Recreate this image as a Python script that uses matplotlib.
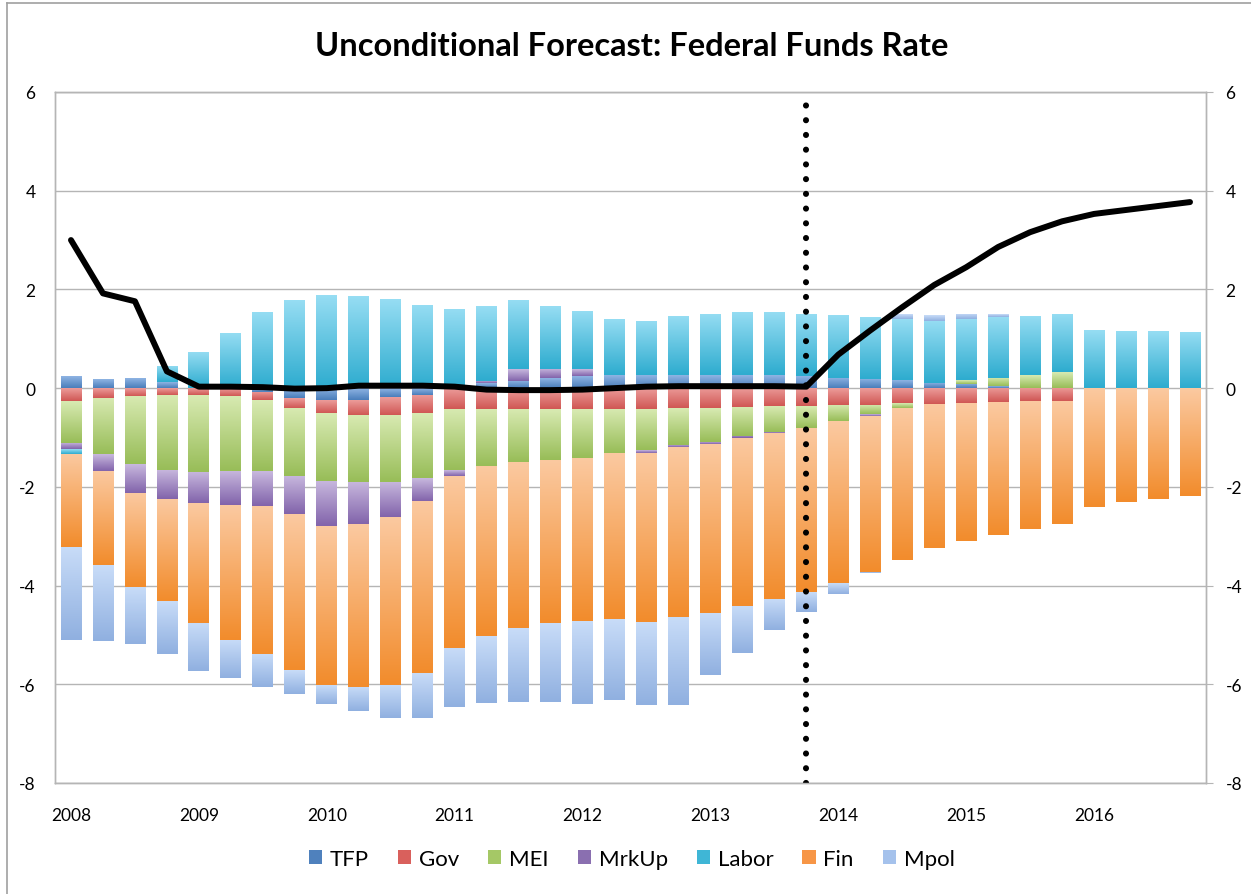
import numpy as np
import matplotlib
matplotlib.use("Agg")
import matplotlib.pyplot as plt
from matplotlib.patches import Patch
from matplotlib.lines import Line2D
from matplotlib.colors import to_rgb

# ---------------- data ----------------
years = [str(y) for y in range(2008, 2017)]
quarters = [f"{y}Q{q}" for y in range(2008, 2017) for q in range(1, 5)]

TFP = [0.24, 0.18, 0.20, 0.12, 0.0, 0.0, -0.08, -0.20, -0.25, -0.24, -0.18, -0.13,
       0.0, 0.10, 0.15, 0.20, 0.24, 0.26, 0.26, 0.26, 0.26, 0.26, 0.26, 0.24,
       0.21, 0.19, 0.16, 0.11, 0.09, 0.04, 0.01, 0.0, 0.0, 0.0, 0.0, 0.0]
Gov = [-0.26, -0.20, -0.15, -0.13, -0.13, -0.16, -0.17, -0.20, -0.26, -0.30, -0.36, -0.38,
       -0.42, -0.42, -0.42, -0.42, -0.42, -0.42, -0.42, -0.41, -0.41, -0.38, -0.37, -0.36,
       -0.34, -0.34, -0.31, -0.32, -0.30, -0.29, -0.27, -0.27, 0.0, 0.0, 0.0, 0.0]
MEI = [-0.85, -1.14, -1.39, -1.52, -1.56, -1.52, -1.43, -1.39, -1.37, -1.36, -1.36, -1.31,
       -1.24, -1.16, -1.08, -1.03, -0.99, -0.90, -0.84, -0.74, -0.68, -0.59, -0.51, -0.44,
       -0.33, -0.19, -0.10, 0.0, 0.07, 0.17, 0.26, 0.32, 0.0, 0.0, 0.0, 0.0]
MrkUp = [-0.13, -0.34, -0.58, -0.60, -0.64, -0.69, -0.70, -0.77, -0.92, -0.86, -0.71, -0.46,
         -0.12, 0.05, 0.24, 0.19, 0.14, 0.0, -0.05, -0.05, -0.05, -0.03, -0.03, 0.0,
         0.0, -0.03, 0.0, 0.0, 0.0, 0.0, 0.0, 0.0, 0.0, 0.0, 0.0, 0.0]
Labor = [-0.09, 0.0, 0.0, 0.33, 0.73, 1.12, 1.55, 1.78, 1.88, 1.86, 1.80, 1.69,
         1.61, 1.51, 1.40, 1.27, 1.18, 1.15, 1.10, 1.21, 1.25, 1.28, 1.28, 1.27,
         1.28, 1.26, 1.25, 1.26, 1.24, 1.24, 1.20, 1.18, 1.17, 1.16, 1.15, 1.14]
Fin = [-1.89, -1.91, -1.91, -2.07, -2.42, -2.73, -3.00, -3.16, -3.21, -3.30, -3.41, -3.50,
       -3.49, -3.45, -3.36, -3.31, -3.31, -3.36, -3.42, -3.43, -3.41, -3.41, -3.37, -3.34,
       -3.28, -3.16, -3.07, -2.91, -2.79, -2.69, -2.59, -2.49, -2.40, -2.31, -2.24, -2.18]
Mpol = [-1.89, -1.53, -1.15, -1.06, -0.98, -0.77, -0.67, -0.47, -0.38, -0.49, -0.67, -0.91,
        -1.20, -1.35, -1.49, -1.60, -1.68, -1.64, -1.68, -1.79, -1.26, -0.96, -0.63, -0.39,
        -0.22, -0.03, 0.10, 0.12, 0.11, 0.05, 0.0, 0.0, 0.0, 0.0, 0.0, 0.0]
FedFunds = [3.00, 1.92, 1.76, 0.34, 0.03, 0.03, 0.02, -0.01, 0.0, 0.05, 0.05, 0.05,
            0.03, -0.03, -0.04, -0.04, -0.03, 0.0, 0.03, 0.04, 0.04, 0.04, 0.04, 0.03,
            0.68, 1.17, 1.64, 2.09, 2.45, 2.86, 3.16, 3.38, 3.53, 3.61, 3.69, 3.77]
forecast_start = "2013Q4"

series_names = ["TFP", "Gov", "MEI", "MrkUp", "Labor", "Fin", "Mpol"]
series_values = [TFP, Gov, MEI, MrkUp, Labor, Fin, Mpol]
# (top colour, bottom colour) of the vertical gradient, legend colour
grad_colors = {
    "TFP":   ("#8fb4e3", "#4a7ebb", "#4f81bd"),
    "Gov":   ("#ec9c9a", "#d05754", "#d9605c"),
    "MEI":   ("#d8eab2", "#98bd58", "#a5c866"),
    "MrkUp": ("#c8b8de", "#8264ab", "#8a6fb0"),
    "Labor": ("#96ddf3", "#2eaccf", "#3fb6d6"),
    "Fin":   ("#fbc9a0", "#f28c2c", "#f79646"),
    "Mpol":  ("#c8dcf8", "#90b0e0", "#a5c2ec"),
}

# ---------------- figure ----------------
W, H = 1251, 895
fig = plt.figure(figsize=(W / 100, H / 100), dpi=100)
fig.patch.set_facecolor("white")
FONT = ["Lato", "DejaVu Sans"]

ax = fig.add_axes([55 / W, 1 - 784 / H, (1206 - 55) / W, (784 - 93) / H])
x = np.arange(len(quarters))
width = 0.65
grid_c = "#b5b5b5"

ax.set_axisbelow(True)
ax.yaxis.grid(True, color=grid_c, lw=1.0)

pos_base = np.zeros(len(x))
neg_base = np.zeros(len(x))
N = 64
for name, vals in zip(series_names, series_values):
    vals = np.asarray(vals, dtype=float)
    top_c, bot_c, _ = grad_colors[name]
    t = np.array(to_rgb(top_c))
    b = np.array(to_rgb(bot_c))
    f = np.linspace(0, 1, N)[:, None]
    grad = (t * (1 - f) + b * f)[:, None, :]
    bottoms = np.where(vals >= 0, pos_base, neg_base)
    bars = ax.bar(x, vals, width, bottom=bottoms, color=bot_c, lw=0, zorder=2)
    for xi, v, bt, patch in zip(x, vals, bottoms, bars.patches):
        if v == 0:
            continue
        lo, hi = min(bt, bt + v), max(bt, bt + v)
        im = ax.imshow(grad, extent=(xi - width / 2, xi + width / 2, lo, hi),
                       origin="upper", aspect="auto", interpolation="bilinear",
                       zorder=2.1)
        im.set_clip_path(patch)
    pos_base = pos_base + np.where(vals > 0, vals, 0)
    neg_base = neg_base + np.where(vals < 0, vals, 0)

# forecast divider
xf = quarters.index(forecast_start)
ax.axvline(xf, color="black", lw=4.4, linestyle=(0, (0.01, 2.4)),
           dash_capstyle="round", zorder=4)

# federal funds rate line
ax.plot(x, FedFunds, color="black", lw=4.3, solid_capstyle="round",
        solid_joinstyle="round", zorder=5)

ax.set_xlim(-0.5, len(x) - 0.5)
ax.set_ylim(-8, 6)
ax.set_yticks(np.arange(-8, 7, 2))
ax.set_yticklabels([str(v) for v in range(-8, 7, 2)], fontfamily=FONT, fontsize=12.5)
year_pos = [quarters.index(f"{y}Q1") for y in years]
ax.set_xticks(year_pos)
ax.set_xticklabels(years, fontfamily=FONT, fontsize=12.5)
ax.tick_params(axis="x", length=0, pad=17)
ax.tick_params(axis="y", length=0, pad=14)
for s in ax.spines.values():
    s.set_color(grid_c)
    s.set_linewidth(1.0)

ax2 = ax.twinx()
ax2.set_ylim(-8, 6)
ax2.set_yticks(np.arange(-8, 7, 2))
ax2.set_yticklabels([str(v) for v in range(-8, 7, 2)], fontfamily=FONT, fontsize=12.5)
ax2.tick_params(axis="y", length=5, color=grid_c, pad=9)
for s in ax2.spines.values():
    s.set_color(grid_c)
    s.set_linewidth(1.0)

# title
fig.text(0.505, 1 - 47 / H, "Unconditional Forecast: Federal Funds Rate",
         ha="center", va="center", fontsize=23.5, fontweight="bold", fontfamily=FONT)

# legend
handles = [Patch(facecolor=grad_colors[n][2], edgecolor="none") for n in series_names]
fig.legend(handles, series_names, loc="center", bbox_to_anchor=(0.505, 1 - 860 / H),
           ncol=7, frameon=False, prop={"family": FONT, "size": 16},
           handlelength=0.6, handleheight=0.6, handletextpad=0.35, columnspacing=1.3)

# outer border (left & top visible)
fig.add_artist(Line2D([7 / W, 7 / W], [0, 1 - 4 / H], color="#a0a0a0", lw=1.2))
fig.add_artist(Line2D([7 / W, 1], [1 - 4 / H, 1 - 4 / H], color="#a0a0a0", lw=1.2))

fig.savefig("out.png", dpi=100, facecolor="white")
